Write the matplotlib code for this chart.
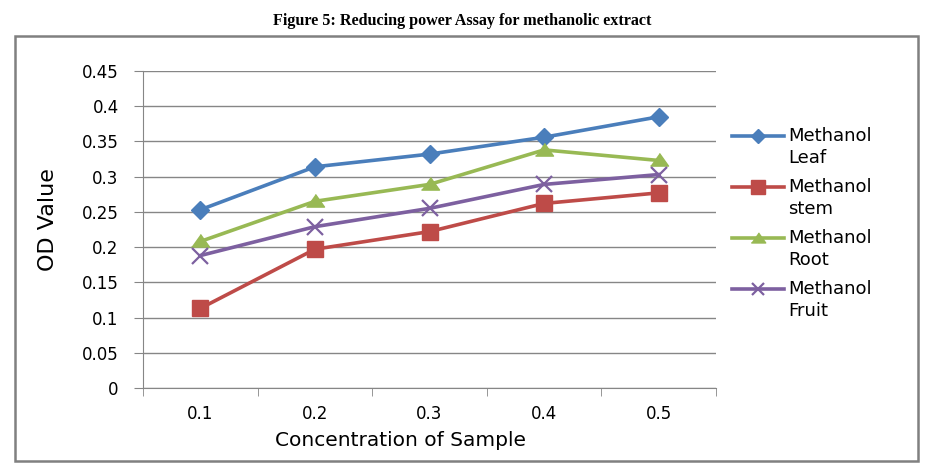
import matplotlib

matplotlib.use("Agg")
import matplotlib.pyplot as plt
from matplotlib.lines import Line2D
from matplotlib.patches import Rectangle

# Datos (OD vs concentracion)
concentraciones = ["0.1", "0.2", "0.3", "0.4", "0.5"]
hoja = [0.253, 0.314, 0.332, 0.356, 0.385]
tallo = [0.113, 0.197, 0.222, 0.262, 0.277]
raiz = [0.208, 0.265, 0.289, 0.338, 0.323]
fruto = [0.188, 0.229, 0.255, 0.289, 0.303]
etiquetas = ["Methanol\nLeaf", "Methanol\nstem", "Methanol\nRoot", "Methanol\nFruit"]
y_ticks = [0, 0.05, 0.1, 0.15, 0.2, 0.25, 0.3, 0.35, 0.4, 0.45]
y_tick_labels = ["0", "0.05", "0.1", "0.15", "0.2", "0.25", "0.3", "0.35", "0.4", "0.45"]

GRIS = "#868686"
FUENTE = "DejaVu Sans"
W, H = 925, 475
triangulo = [(-1, -0.62), (1, -0.62), (0, 0.78)]


def px(x, y):
    # pixeles (origen arriba-izquierda) -> coordenadas de figura
    return x / W, 1 - y / H


fig = plt.figure(figsize=(W / 100, H / 100), dpi=100)
fig.text(0.5, 0.955, "Figure 5: Reducing power Assay for methanolic extract",
         ha="center", va="center", family="Liberation Serif", weight="bold", fontsize=11.6)
fig.patches.append(Rectangle(px(15, 461), 903 / W, 425 / H, transform=fig.transFigure,
                             fill=False, edgecolor="#808080", linewidth=1.8))

ax = fig.add_axes([143 / W, 87 / H, 573 / W, 317 / H])
x = range(len(concentraciones))
estilos = [
    (hoja, "#4A7EBB", "D", 9, 1),
    (tallo, "#BE4B48", "s", 12, 1),
    (raiz, "#98B954", triangulo, 13, 1),
    (fruto, "#7D60A0", "x", 11, 1.6),
]
for serie, (valores, color, marca, tam, mew) in zip(etiquetas, estilos):
    ax.plot(x, valores, color=color, linewidth=2.6, marker=marca, markersize=tam,
            markeredgewidth=mew, label=serie)

ax.set_xlim(-0.5, 4.5)
ax.set_ylim(0, 0.45)
ax.set_yticks(y_ticks)
ax.set_yticklabels(y_tick_labels, family=FUENTE, fontsize=12)
ax.set_xticks(list(x))
ax.set_xticklabels(concentraciones, family=FUENTE, fontsize=12)
ax.set_xticks([i - 0.5 for i in range(len(concentraciones) + 1)], minor=True)
ax.tick_params(axis="x", which="major", length=0, pad=12)
ax.tick_params(axis="x", which="minor", length=6, color=GRIS, direction="out")
ax.tick_params(axis="y", length=6.5, color=GRIS, pad=11)
ax.yaxis.grid(True, color=GRIS, linewidth=1)
ax.set_axisbelow(True)
for lado in ["top", "right"]:
    ax.spines[lado].set_visible(False)
for lado in ["left", "bottom"]:
    ax.spines[lado].set_color(GRIS)

ax.set_ylabel("OD Value", family=FUENTE, fontsize=16)
ax.yaxis.set_label_coords((58 - 143) / 573, 0.53)
ax.set_xlabel("Concentration of Sample", family=FUENTE, fontsize=14.5)
ax.xaxis.set_label_coords(0.45, (388 - 431) / 317)

# Leyenda a mano: el simbolo va alineado con la primera linea del texto
for i, (serie, (valores, color, marca, tam, mew)) in enumerate(zip(etiquetas, estilos)):
    y = 136 + i * 51
    x0, y0 = px(732, y)
    x1, _ = px(784, y)
    fig.add_artist(Line2D([x0, x1], [y0, y0], transform=fig.transFigure, color=color,
                          linewidth=2.6))
    fig.add_artist(Line2D([(x0 + x1) / 2], [y0], transform=fig.transFigure, color=color,
                          marker=marca, markersize=tam * 0.8, markeredgewidth=mew,
                          linestyle="none"))
    tx, ty = px(788, y - 9)
    fig.text(tx, ty, serie, ha="left", va="top", family=FUENTE, fontsize=13,
             linespacing=1.3)

fig.savefig("out.png", dpi=100)
